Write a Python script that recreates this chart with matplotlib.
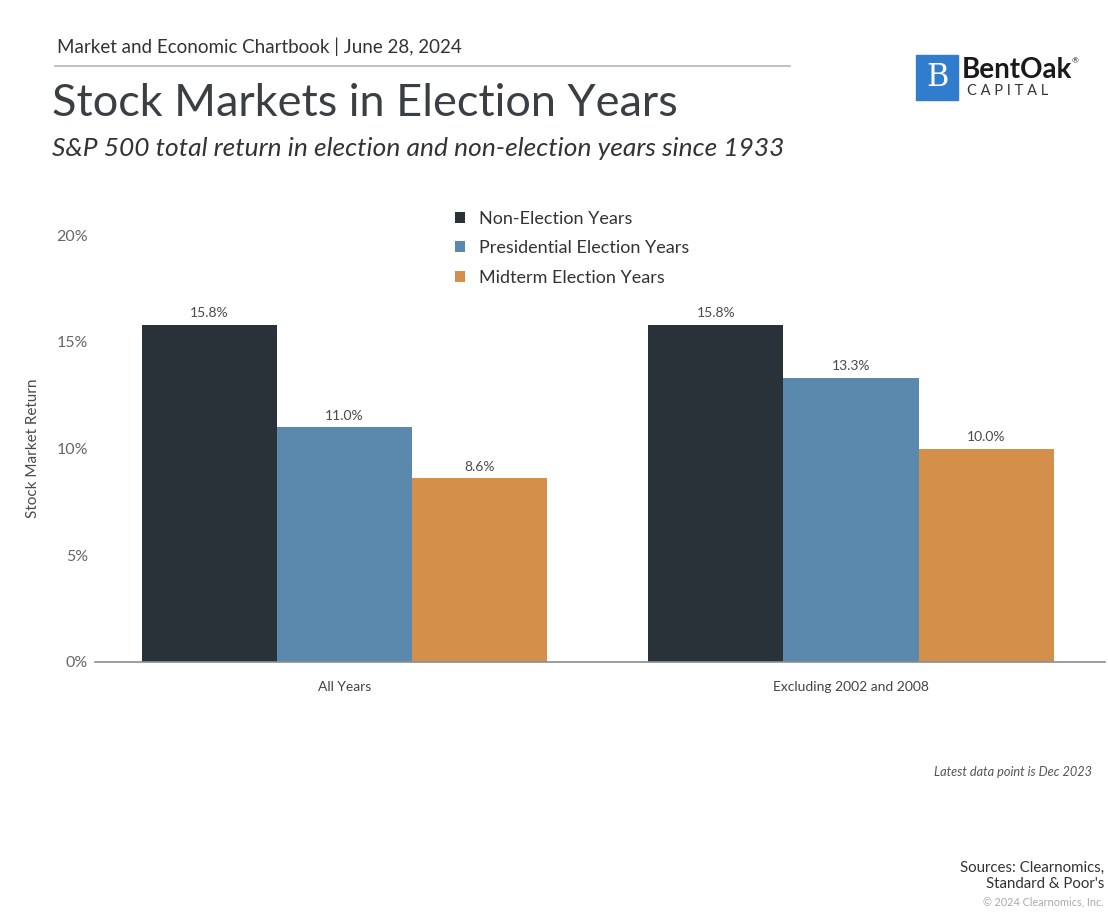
import numpy as np
import matplotlib.pyplot as plt
from matplotlib.patches import Rectangle

plt.rcParams['font.family'] = ['Lato', 'DejaVu Sans']

# data
groups = ['All Years', 'Excluding 2002 and 2008']
series = ['Non-Election Years', 'Presidential Election Years', 'Midterm Election Years']
non_election = [15.8, 15.8]
presidential = [11.0, 13.3]
midterm = [8.6, 10.0]
colors = ['#283238', '#5b89ae', '#d48f4b']

fig = plt.figure(figsize=(11.08, 9.22), dpi=100)
ax = fig.add_axes([0.0857, 0.2820, 0.9116, 0.4631])

x = np.arange(len(groups))
w = 0.2666
handles = []
for i, (vals, name) in enumerate(zip([non_election, presidential, midterm], series)):
    bars = ax.bar(x + (i - 1) * w, vals, w, color=colors[i], label=name, zorder=2)
    handles.append(bars)
    for b, v in zip(bars, vals):
        ax.annotate(f'{v:.1f}%', (b.get_x() + b.get_width() / 2, v),
                    xytext=(0, 4), textcoords='offset points',
                    ha='center', va='bottom', fontsize=10, color='#4a4a4a')

ax.set_xlim(-0.4926, 1.5015)
ax.set_ylim(0, 20)
ax.set_yticks([0, 5, 10, 15, 20])
ax.set_yticklabels(['0%', '5%', '10%', '15%', '20%'])
ax.set_xticks(x)
ax.set_xticklabels(groups)
for s in ['top', 'right', 'left']:
    ax.spines[s].set_visible(False)
ax.spines['bottom'].set_color('#8a8f93')
ax.spines['bottom'].set_linewidth(1.2)
ax.tick_params(axis='y', length=0, labelsize=11.5, labelcolor='#666666', pad=5)
ax.tick_params(axis='x', length=0, labelsize=10, labelcolor='#444444', pad=14)
ax.set_ylabel('Stock Market Return', fontsize=11, color='#4a4a4a', labelpad=12)

leg = ax.legend(handles=handles, loc='upper left', bbox_to_anchor=(0.34, 1.095),
                frameon=False, fontsize=13, handlelength=0.55, handleheight=0.55,
                handletextpad=0.8, labelspacing=0.75, labelcolor='#333333')

# header
fig.text(57 / 1108, 1 - 47 / 922, 'Market and Economic Chartbook | June 28, 2024',
         fontsize=13.5, color='#333333', va='center', ha='left')
fig.add_artist(plt.Line2D([55 / 1108, 790 / 1108], [1 - 66 / 922, 1 - 66 / 922],
                          color='#b5b5b5', lw=1.2))
fig.text(52 / 1108, 1 - 104 / 922, 'Stock Markets in Election Years',
         fontsize=32.5, color='#3a3f44', va='center', ha='left')
fig.text(52 / 1108, 1 - 148 / 922,
         'S&P 500 total return in election and non-election years since 1933',
         fontsize=19, style='italic', color='#333333', va='center', ha='left')

# logo
fig.add_artist(Rectangle((916 / 1108, 1 - 100 / 922), 42 / 1108, 45 / 922,
                         transform=fig.transFigure, color='#2f7dcc'))
fig.text(937 / 1108, 1 - 77 / 922, 'B', fontsize=22, color='white',
         fontfamily='DejaVu Serif', ha='center', va='center')
fig.text(962 / 1108, 1 - 70 / 922, 'BentOak', fontsize=20, fontweight='bold',
         color='#1a1a1a', ha='left', va='center')
fig.text(1072 / 1108, 1 - 61 / 922, '®', fontsize=6, color='#1a1a1a', ha='left', va='center')
fig.text(967 / 1108, 1 - 91 / 922, 'C A P I T A L', fontsize=10.5, color='#333333',
         ha='left', va='center')

# footer
fig.text(1092 / 1108, 1 - 772 / 922, 'Latest data point is Dec 2023', fontsize=9.2,
         style='italic', color='#555555', ha='right', va='center')
fig.text(1104 / 1108, 1 - 876 / 922, "Sources: Clearnomics,\nStandard & Poor's",
         fontsize=10.8, color='#333333', ha='right', va='center', linespacing=1.25)
fig.text(1104 / 1108, 1 - 902 / 922, '© 2024 Clearnomics, Inc.', fontsize=7.8,
         color='#aaaaaa', ha='right', va='center')

fig.savefig('out.png', dpi=100, facecolor='white')
